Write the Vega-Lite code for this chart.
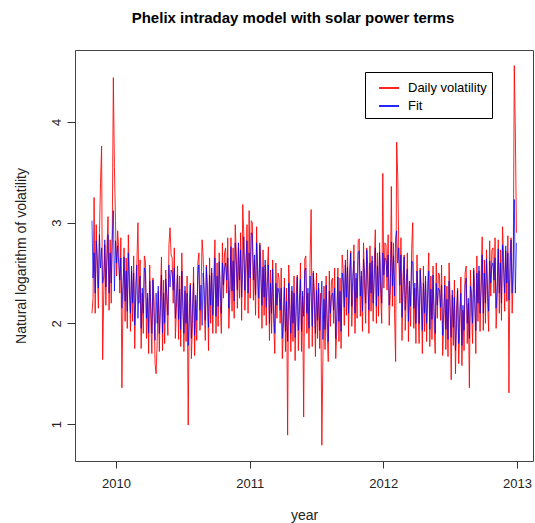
{
"$schema":"https://vega.github.io/schema/vega-lite/v6.json",
"width":458,"height":411,
"autosize":{"type":"none"},
"padding":{"left":75,"top":50,"right":2,"bottom":62},
"config":{"font":"Liberation Sans","view":{"stroke":"#444","strokeWidth":1}},
"title":{"text":"Phelix intraday model with solar power terms","fontSize":15,"fontWeight":"bold","color":"#000","anchor":"middle","dx":-11,"offset":24},
"data":{"values":[
{"t":2009.820,"f":3.02,"r":2.10},{"t":2009.828,"f":2.45,"r":2.25},{"t":2009.836,"f":2.70,"r":3.25},{"t":2009.844,"f":2.30,"r":2.10},{"t":2009.852,"f":2.82,"r":2.98},{"t":2009.860,"f":2.65,"r":2.50},{"t":2009.868,"f":2.35,"r":2.15},{"t":2009.876,"f":2.88,"r":2.90},{"t":2009.884,"f":2.55,"r":3.40},{"t":2009.892,"f":2.75,"r":3.76},{"t":2009.900,"f":2.40,"r":1.64},{"t":2009.908,"f":2.46,"r":2.28},{"t":2009.916,"f":2.83,"r":2.78},{"t":2009.924,"f":2.36,"r":2.18},{"t":2009.932,"f":2.60,"r":2.73},{"t":2009.940,"f":2.88,"r":3.06},{"t":2009.948,"f":2.30,"r":2.13},{"t":2009.956,"f":2.70,"r":2.83},{"t":2009.964,"f":2.40,"r":2.20},{"t":2009.972,"f":2.84,"r":2.93},{"t":2009.980,"f":3.12,"r":4.44},{"t":2009.988,"f":2.32,"r":3.55},{"t":2009.996,"f":2.82,"r":3.02},{"t":2010.004,"f":2.60,"r":2.47},{"t":2010.012,"f":2.77,"r":2.92},
{"t":2010.020,"f":2.60,"r":2.75},{"t":2010.028,"f":2.43,"r":2.30},{"t":2010.036,"f":2.65,"r":2.85},{"t":2010.044,"f":2.15,"r":1.36},{"t":2010.052,"f":2.37,"r":2.25},{"t":2010.060,"f":2.66,"r":2.75},{"t":2010.068,"f":2.22,"r":2.02},{"t":2010.076,"f":2.52,"r":2.65},{"t":2010.084,"f":2.12,"r":1.95},{"t":2010.092,"f":2.70,"r":2.88},{"t":2010.100,"f":2.34,"r":2.47},{"t":2010.108,"f":2.10,"r":1.92},{"t":2010.116,"f":2.57,"r":2.52},{"t":2010.124,"f":2.20,"r":2.02},{"t":2010.132,"f":2.50,"r":2.67},{"t":2010.140,"f":1.98,"r":1.75},{"t":2010.148,"f":2.25,"r":2.40},{"t":2010.156,"f":2.58,"r":2.60},{"t":2010.164,"f":2.05,"r":3.00},{"t":2010.172,"f":2.35,"r":2.20},{"t":2010.180,"f":2.47,"r":2.63},{"t":2010.188,"f":1.95,"r":1.75},{"t":2010.196,"f":2.35,"r":2.30},{"t":2010.204,"f":2.10,"r":1.90},{"t":2010.212,"f":2.55,"r":2.67},
{"t":2010.220,"f":2.50,"r":2.62},{"t":2010.228,"f":2.05,"r":1.85},{"t":2010.236,"f":2.30,"r":2.25},{"t":2010.244,"f":1.90,"r":1.70},{"t":2010.252,"f":2.42,"r":2.58},{"t":2010.260,"f":2.20,"r":2.05},{"t":2010.268,"f":1.90,"r":1.70},{"t":2010.276,"f":2.43,"r":2.45},{"t":2010.284,"f":2.10,"r":2.25},{"t":2010.292,"f":1.83,"r":1.60},{"t":2010.300,"f":2.30,"r":1.50},{"t":2010.308,"f":2.00,"r":1.82},{"t":2010.316,"f":2.37,"r":2.32},{"t":2010.324,"f":1.90,"r":1.72},{"t":2010.332,"f":2.14,"r":2.27},{"t":2010.340,"f":2.48,"r":2.66},{"t":2010.348,"f":1.90,"r":1.73},{"t":2010.356,"f":2.30,"r":2.43},{"t":2010.364,"f":2.00,"r":1.80},{"t":2010.372,"f":2.44,"r":2.53},{"t":2010.380,"f":2.30,"r":2.18},{"t":2010.388,"f":2.08,"r":1.88},{"t":2010.396,"f":2.58,"r":2.78},{"t":2010.404,"f":2.36,"r":2.95},{"t":2010.412,"f":2.53,"r":2.68},
{"t":2010.420,"f":2.50,"r":2.65},{"t":2010.428,"f":2.33,"r":2.20},{"t":2010.436,"f":2.55,"r":2.75},{"t":2010.444,"f":2.05,"r":1.85},{"t":2010.452,"f":2.27,"r":2.15},{"t":2010.460,"f":2.48,"r":2.57},{"t":2010.468,"f":2.04,"r":1.84},{"t":2010.476,"f":2.34,"r":2.47},{"t":2010.484,"f":1.94,"r":1.77},{"t":2010.492,"f":2.52,"r":2.70},{"t":2010.500,"f":2.14,"r":2.27},{"t":2010.508,"f":1.90,"r":1.72},{"t":2010.516,"f":2.37,"r":2.32},{"t":2010.524,"f":2.00,"r":1.82},{"t":2010.532,"f":2.30,"r":2.47},{"t":2010.540,"f":1.78,"r":0.99},{"t":2010.548,"f":2.05,"r":2.20},{"t":2010.556,"f":2.38,"r":2.40},{"t":2010.564,"f":1.85,"r":1.65},{"t":2010.572,"f":2.15,"r":2.00},{"t":2010.580,"f":2.40,"r":2.56},{"t":2010.588,"f":1.88,"r":1.68},{"t":2010.596,"f":2.28,"r":2.23},{"t":2010.604,"f":2.03,"r":1.83},{"t":2010.612,"f":2.48,"r":2.60},
{"t":2010.620,"f":2.58,"r":2.70},{"t":2010.628,"f":2.13,"r":1.93},{"t":2010.636,"f":2.38,"r":2.33},{"t":2010.644,"f":1.98,"r":2.83},{"t":2010.652,"f":2.50,"r":2.66},{"t":2010.660,"f":2.33,"r":2.18},{"t":2010.668,"f":2.03,"r":1.83},{"t":2010.676,"f":2.56,"r":2.58},{"t":2010.684,"f":2.23,"r":2.38},{"t":2010.692,"f":1.96,"r":1.73},{"t":2010.700,"f":2.48,"r":2.65},{"t":2010.708,"f":2.18,"r":2.00},{"t":2010.716,"f":2.55,"r":2.50},{"t":2010.724,"f":2.08,"r":1.90},{"t":2010.732,"f":2.32,"r":2.45},{"t":2010.740,"f":2.65,"r":2.83},{"t":2010.748,"f":2.07,"r":1.90},{"t":2010.756,"f":2.47,"r":2.60},{"t":2010.764,"f":2.17,"r":1.97},{"t":2010.772,"f":2.61,"r":2.70},{"t":2010.780,"f":2.32,"r":2.20},{"t":2010.788,"f":2.10,"r":1.90},{"t":2010.796,"f":2.60,"r":2.80},{"t":2010.804,"f":2.38,"r":2.25},{"t":2010.812,"f":2.55,"r":2.70},
{"t":2010.820,"f":2.60,"r":2.75},{"t":2010.828,"f":2.43,"r":2.30},{"t":2010.836,"f":2.65,"r":2.85},{"t":2010.844,"f":2.15,"r":1.95},{"t":2010.852,"f":2.37,"r":2.25},{"t":2010.860,"f":2.76,"r":2.85},{"t":2010.868,"f":2.32,"r":2.12},{"t":2010.876,"f":2.62,"r":2.75},{"t":2010.884,"f":2.22,"r":2.05},{"t":2010.892,"f":2.80,"r":2.98},{"t":2010.900,"f":2.57,"r":2.70},{"t":2010.908,"f":2.33,"r":2.15},{"t":2010.916,"f":2.80,"r":2.75},{"t":2010.924,"f":2.43,"r":2.25},{"t":2010.932,"f":2.73,"r":2.90},{"t":2010.940,"f":2.26,"r":2.03},{"t":2010.948,"f":2.53,"r":3.18},{"t":2010.956,"f":2.86,"r":2.88},{"t":2010.964,"f":2.33,"r":2.13},{"t":2010.972,"f":2.63,"r":2.48},{"t":2010.980,"f":2.82,"r":2.98},{"t":2010.988,"f":2.30,"r":2.10},{"t":2010.996,"f":2.70,"r":3.12},{"t":2011.004,"f":2.45,"r":2.25},{"t":2011.012,"f":2.90,"r":3.02},
{"t":2011.020,"f":2.88,"r":3.00},{"t":2011.028,"f":2.43,"r":2.23},{"t":2011.036,"f":2.68,"r":2.63},{"t":2011.044,"f":2.28,"r":2.08},{"t":2011.052,"f":2.80,"r":2.96},{"t":2011.060,"f":2.55,"r":2.40},{"t":2011.068,"f":2.25,"r":2.05},{"t":2011.076,"f":2.78,"r":2.80},{"t":2011.084,"f":2.45,"r":2.60},{"t":2011.092,"f":2.18,"r":1.95},{"t":2011.100,"f":2.56,"r":2.73},{"t":2011.108,"f":2.26,"r":2.08},{"t":2011.116,"f":2.63,"r":2.58},{"t":2011.124,"f":2.16,"r":1.98},{"t":2011.132,"f":2.40,"r":2.53},{"t":2011.140,"f":2.58,"r":2.76},{"t":2011.148,"f":2.00,"r":1.83},{"t":2011.156,"f":2.40,"r":2.53},{"t":2011.164,"f":2.10,"r":1.90},{"t":2011.172,"f":2.54,"r":2.63},{"t":2011.180,"f":2.12,"r":2.00},{"t":2011.188,"f":1.90,"r":1.70},{"t":2011.196,"f":2.40,"r":2.60},{"t":2011.204,"f":2.18,"r":2.05},{"t":2011.212,"f":2.35,"r":2.50},
{"t":2011.220,"f":2.30,"r":2.45},{"t":2011.228,"f":2.13,"r":2.00},{"t":2011.236,"f":2.35,"r":2.55},{"t":2011.244,"f":1.85,"r":1.65},{"t":2011.252,"f":2.07,"r":1.95},{"t":2011.260,"f":2.36,"r":2.45},{"t":2011.268,"f":1.92,"r":1.72},{"t":2011.276,"f":2.22,"r":2.35},{"t":2011.284,"f":1.82,"r":0.89},{"t":2011.292,"f":2.40,"r":2.58},{"t":2011.300,"f":2.14,"r":2.27},{"t":2011.308,"f":1.90,"r":1.72},{"t":2011.316,"f":2.37,"r":2.32},{"t":2011.324,"f":2.00,"r":1.82},{"t":2011.332,"f":2.30,"r":2.47},{"t":2011.340,"f":1.86,"r":1.63},{"t":2011.348,"f":2.13,"r":2.28},{"t":2011.356,"f":2.46,"r":2.48},{"t":2011.364,"f":1.93,"r":1.73},{"t":2011.372,"f":2.23,"r":2.08},{"t":2011.380,"f":2.44,"r":2.60},{"t":2011.388,"f":1.92,"r":1.72},{"t":2011.396,"f":2.32,"r":2.27},{"t":2011.404,"f":2.07,"r":1.07},{"t":2011.412,"f":2.52,"r":2.64},
{"t":2011.420,"f":2.55,"r":2.67},{"t":2011.428,"f":2.10,"r":1.90},{"t":2011.436,"f":2.35,"r":2.30},{"t":2011.444,"f":1.95,"r":1.75},{"t":2011.452,"f":2.47,"r":2.63},{"t":2011.460,"f":2.27,"r":3.13},{"t":2011.468,"f":1.97,"r":1.77},{"t":2011.476,"f":2.50,"r":2.52},{"t":2011.484,"f":2.17,"r":2.32},{"t":2011.492,"f":1.90,"r":1.67},{"t":2011.500,"f":2.33,"r":2.50},{"t":2011.508,"f":2.03,"r":1.85},{"t":2011.516,"f":2.40,"r":2.35},{"t":2011.524,"f":1.93,"r":1.75},{"t":2011.532,"f":2.17,"r":2.30},{"t":2011.540,"f":2.42,"r":0.79},{"t":2011.548,"f":1.84,"r":1.67},{"t":2011.556,"f":2.24,"r":2.37},{"t":2011.564,"f":1.94,"r":1.74},{"t":2011.572,"f":2.38,"r":2.47},{"t":2011.580,"f":2.04,"r":1.92},{"t":2011.588,"f":1.82,"r":1.62},{"t":2011.596,"f":2.32,"r":2.52},{"t":2011.604,"f":2.10,"r":1.97},{"t":2011.612,"f":2.27,"r":2.42},
{"t":2011.620,"f":2.30,"r":2.45},{"t":2011.628,"f":2.13,"r":2.00},{"t":2011.636,"f":2.35,"r":2.55},{"t":2011.644,"f":1.85,"r":1.65},{"t":2011.652,"f":2.07,"r":1.95},{"t":2011.660,"f":2.46,"r":2.55},{"t":2011.668,"f":2.02,"r":1.82},{"t":2011.676,"f":2.32,"r":2.45},{"t":2011.684,"f":1.92,"r":1.75},{"t":2011.692,"f":2.50,"r":2.68},{"t":2011.700,"f":2.40,"r":2.53},{"t":2011.708,"f":2.16,"r":1.98},{"t":2011.716,"f":2.63,"r":2.58},{"t":2011.724,"f":2.26,"r":2.08},{"t":2011.732,"f":2.56,"r":2.73},{"t":2011.740,"f":2.10,"r":1.87},{"t":2011.748,"f":2.37,"r":2.52},{"t":2011.756,"f":2.70,"r":2.72},{"t":2011.764,"f":2.17,"r":1.97},{"t":2011.772,"f":2.47,"r":2.32},{"t":2011.780,"f":2.62,"r":2.78},{"t":2011.788,"f":2.10,"r":1.90},{"t":2011.796,"f":2.50,"r":2.45},{"t":2011.804,"f":2.25,"r":2.05},{"t":2011.812,"f":2.70,"r":2.82},
{"t":2011.820,"f":2.72,"r":2.84},{"t":2011.828,"f":2.27,"r":2.07},{"t":2011.836,"f":2.52,"r":2.47},{"t":2011.844,"f":2.12,"r":1.92},{"t":2011.852,"f":2.64,"r":2.80},{"t":2011.860,"f":2.50,"r":2.35},{"t":2011.868,"f":2.20,"r":2.00},{"t":2011.876,"f":2.73,"r":2.75},{"t":2011.884,"f":2.40,"r":2.55},{"t":2011.892,"f":2.13,"r":1.90},{"t":2011.900,"f":2.60,"r":2.77},{"t":2011.908,"f":2.30,"r":2.12},{"t":2011.916,"f":2.67,"r":2.62},{"t":2011.924,"f":2.20,"r":2.02},{"t":2011.932,"f":2.44,"r":2.57},{"t":2011.940,"f":2.75,"r":2.93},{"t":2011.948,"f":2.17,"r":2.00},{"t":2011.956,"f":2.57,"r":2.70},{"t":2011.964,"f":2.27,"r":2.07},{"t":2011.972,"f":2.71,"r":2.80},{"t":2011.980,"f":2.42,"r":2.30},{"t":2011.988,"f":2.20,"r":2.00},{"t":2011.996,"f":2.70,"r":3.49},{"t":2012.004,"f":2.48,"r":2.35},{"t":2012.012,"f":2.65,"r":2.80},
{"t":2012.020,"f":2.63,"r":2.78},{"t":2012.028,"f":2.46,"r":2.33},{"t":2012.036,"f":2.68,"r":2.88},{"t":2012.044,"f":2.18,"r":1.98},{"t":2012.052,"f":2.40,"r":2.28},{"t":2012.060,"f":2.81,"r":3.36},{"t":2012.068,"f":2.37,"r":2.17},{"t":2012.076,"f":2.67,"r":2.80},{"t":2012.084,"f":2.27,"r":2.10},{"t":2012.092,"f":2.85,"r":1.62},{"t":2012.100,"f":2.92,"r":3.80},{"t":2012.108,"f":2.60,"r":3.45},{"t":2012.116,"f":2.75,"r":2.70},{"t":2012.124,"f":2.38,"r":2.20},{"t":2012.132,"f":2.68,"r":2.85},{"t":2012.140,"f":2.06,"r":1.83},{"t":2012.148,"f":2.33,"r":2.48},{"t":2012.156,"f":2.66,"r":2.68},{"t":2012.164,"f":2.13,"r":1.93},{"t":2012.172,"f":2.43,"r":2.28},{"t":2012.180,"f":2.54,"r":2.70},{"t":2012.188,"f":2.02,"r":1.82},{"t":2012.196,"f":2.42,"r":2.37},{"t":2012.204,"f":2.17,"r":1.97},{"t":2012.212,"f":2.62,"r":2.74},
{"t":2012.220,"f":2.60,"r":3.00},{"t":2012.228,"f":2.15,"r":1.95},{"t":2012.236,"f":2.40,"r":2.35},{"t":2012.244,"f":2.00,"r":1.80},{"t":2012.252,"f":2.52,"r":2.68},{"t":2012.260,"f":2.30,"r":2.15},{"t":2012.268,"f":2.00,"r":1.80},{"t":2012.276,"f":2.53,"r":2.55},{"t":2012.284,"f":2.20,"r":2.35},{"t":2012.292,"f":1.93,"r":1.70},{"t":2012.300,"f":2.40,"r":2.57},{"t":2012.308,"f":2.10,"r":1.92},{"t":2012.316,"f":2.47,"r":2.42},{"t":2012.324,"f":2.00,"r":1.82},{"t":2012.332,"f":2.24,"r":2.37},{"t":2012.340,"f":2.52,"r":2.70},{"t":2012.348,"f":1.94,"r":1.77},{"t":2012.356,"f":2.34,"r":2.47},{"t":2012.364,"f":2.04,"r":1.84},{"t":2012.372,"f":2.48,"r":2.57},{"t":2012.380,"f":2.12,"r":2.00},{"t":2012.388,"f":1.90,"r":1.70},{"t":2012.396,"f":2.40,"r":2.60},{"t":2012.404,"f":2.18,"r":2.05},{"t":2012.412,"f":2.35,"r":2.50},
{"t":2012.420,"f":2.33,"r":2.48},{"t":2012.428,"f":2.16,"r":2.03},{"t":2012.436,"f":2.38,"r":2.58},{"t":2012.444,"f":1.88,"r":1.68},{"t":2012.452,"f":2.10,"r":1.98},{"t":2012.460,"f":2.38,"r":2.47},{"t":2012.468,"f":1.94,"r":1.74},{"t":2012.476,"f":2.24,"r":2.37},{"t":2012.484,"f":1.84,"r":1.67},{"t":2012.492,"f":2.42,"r":2.60},{"t":2012.500,"f":2.10,"r":2.23},{"t":2012.508,"f":1.86,"r":1.44},{"t":2012.516,"f":2.33,"r":2.28},{"t":2012.524,"f":1.96,"r":1.78},{"t":2012.532,"f":2.26,"r":2.43},{"t":2012.540,"f":1.73,"r":1.50},{"t":2012.548,"f":2.00,"r":2.15},{"t":2012.556,"f":2.33,"r":2.35},{"t":2012.564,"f":1.80,"r":1.60},{"t":2012.572,"f":2.10,"r":1.95},{"t":2012.580,"f":2.30,"r":2.46},{"t":2012.588,"f":1.78,"r":1.58},{"t":2012.596,"f":2.18,"r":2.13},{"t":2012.604,"f":1.93,"r":1.73},{"t":2012.612,"f":2.38,"r":2.50},
{"t":2012.620,"f":2.45,"r":2.57},{"t":2012.628,"f":2.00,"r":1.80},{"t":2012.636,"f":2.25,"r":2.20},{"t":2012.644,"f":1.85,"r":1.36},{"t":2012.652,"f":2.37,"r":2.53},{"t":2012.660,"f":2.30,"r":2.15},{"t":2012.668,"f":2.00,"r":1.80},{"t":2012.676,"f":2.53,"r":2.55},{"t":2012.684,"f":2.20,"r":2.35},{"t":2012.692,"f":1.93,"r":1.70},{"t":2012.700,"f":2.50,"r":2.67},{"t":2012.708,"f":2.20,"r":2.02},{"t":2012.716,"f":2.57,"r":2.52},{"t":2012.724,"f":2.10,"r":1.92},{"t":2012.732,"f":2.34,"r":2.47},{"t":2012.740,"f":2.68,"r":2.86},{"t":2012.748,"f":2.10,"r":1.93},{"t":2012.756,"f":2.50,"r":2.63},{"t":2012.764,"f":2.20,"r":2.00},{"t":2012.772,"f":2.64,"r":2.73},{"t":2012.780,"f":2.34,"r":2.22},{"t":2012.788,"f":2.12,"r":1.92},{"t":2012.796,"f":2.62,"r":2.82},{"t":2012.804,"f":2.40,"r":2.27},{"t":2012.812,"f":2.57,"r":2.72},
{"t":2012.820,"f":2.60,"r":2.75},{"t":2012.828,"f":2.43,"r":2.30},{"t":2012.836,"f":2.65,"r":2.85},{"t":2012.844,"f":2.15,"r":1.95},{"t":2012.852,"f":2.37,"r":2.25},{"t":2012.860,"f":2.74,"r":2.83},{"t":2012.868,"f":2.30,"r":2.10},{"t":2012.876,"f":2.60,"r":2.73},{"t":2012.884,"f":2.20,"r":2.03},{"t":2012.892,"f":2.78,"r":2.96},{"t":2012.900,"f":2.54,"r":2.67},{"t":2012.908,"f":2.30,"r":2.12},{"t":2012.916,"f":2.77,"r":2.72},{"t":2012.924,"f":2.40,"r":2.22},{"t":2012.932,"f":2.70,"r":2.87},{"t":2012.940,"f":2.23,"r":1.31},{"t":2012.948,"f":2.50,"r":2.65},{"t":2012.956,"f":2.83,"r":2.85},{"t":2012.964,"f":2.30,"r":2.10},{"t":2012.972,"f":2.60,"r":2.45},{"t":2012.980,"f":3.23,"r":4.56},{"t":2012.988,"f":2.30,"r":3.90},{"t":2012.996,"f":2.80,"r":2.90}
]},
"encoding":{
"x":{"field":"t","type":"quantitative","scale":{"domain":[2009.693,2013.12],"nice":false,"zero":false},
"axis":{"title":"year","values":[2010,2011,2012,2013],"format":"d","grid":false,"domain":false,"tickSize":7,"tickColor":"#333","labelFontSize":13,"labelColor":"#222","labelPadding":9,"titleFontSize":14,"titleFontWeight":"normal","titleColor":"#222","titlePadding":18}}
},
"layer":[
{"mark":{"type":"line","strokeWidth":1,"opacity":0.85},
"encoding":{
"y":{"field":"r","type":"quantitative","scale":{"domain":[0.633,4.715],"nice":false,"zero":false},
"axis":{"title":"Natural logarithm of volatility","values":[1,2,3,4],"format":"d","grid":false,"domain":false,"tickSize":8,"tickColor":"#333","labelFontSize":13,"labelColor":"#222","labelAngle":-90,"labelAlign":"center","labelBaseline":"bottom","labelPadding":4,"titleFontSize":14,"titleFontWeight":"normal","titleColor":"#222","titlePadding":22}},
"color":{"datum":"Daily volatility","type":"nominal","scale":{"domain":["Daily volatility","Fit"],"range":["#ff0000","#0000ff"]},
"legend":{"title":null,"orient":"none","legendX":290,"legendY":22,"strokeColor":"#000","fillColor":"#fff","padding":5,"symbolType":"stroke","symbolSize":400,"symbolOffset":8,"symbolStrokeWidth":2,"labelFontSize":13,"labelColor":"#000","rowPadding":-3,"labelOffset":8}}
}},
{"mark":{"type":"line","strokeWidth":1,"opacity":0.7},
"encoding":{
"y":{"field":"f","type":"quantitative","title":"Natural logarithm of volatility"},
"color":{"datum":"Fit","type":"nominal"}
}}
]
}
